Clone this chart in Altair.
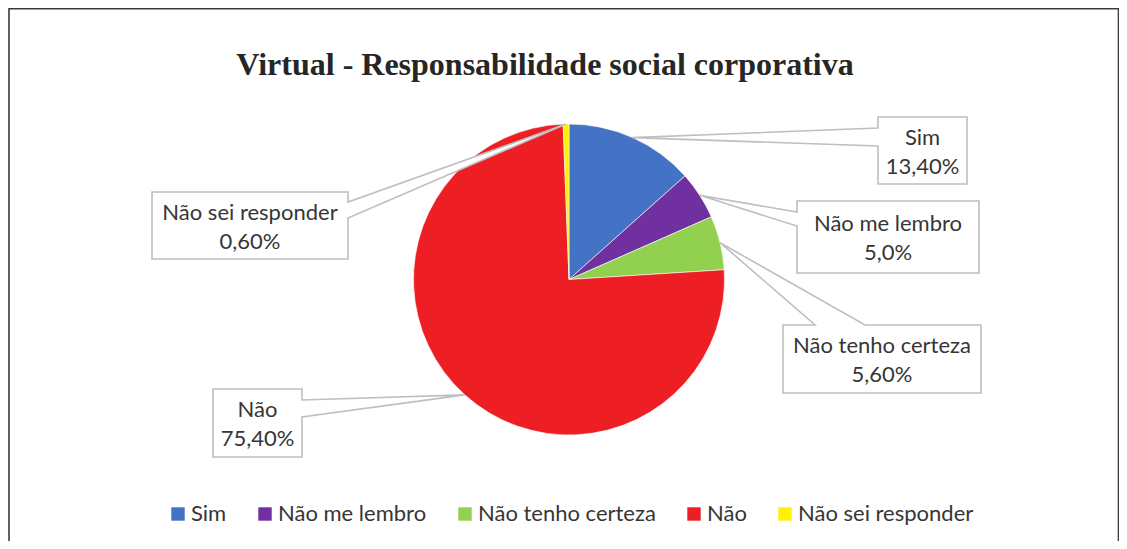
import math
import altair as alt
import pandas as pd

# ---------------- data ----------------
categories = ["Sim", "Não me lembro", "Não tenho certeza", "Não", "Não sei responder"]
values = [13.4, 5.0, 5.6, 75.4, 0.6]
value_labels = ["13,40%", "5,0%", "5,60%", "75,40%", "0,60%"]
colors = ["#4472C4", "#7030A0", "#92D050", "#ED1F24", "#FFF200"]
title_text = "Virtual - Responsabilidade social corporativa"

# ---------------- layout (page pixels) ----------------
M = 8                      # page margin
W, H = 1111, 533           # drawing size (fits inside the window)
CX, CY, R = 569, 279.5, 155.5
FONT = "Lato"
FS = 22
LH = 29
TEXT_COLOR = "#363636"
LINE_COLOR = "#BFBFBF"

# callout boxes: x0, x1, y0, y1, side where the pointer attaches, attach a, attach b
box_layout = [
    (878, 967, 117, 184, "left", 128, 146),
    (797, 979, 201, 273, "left", 212, 226),
    (783, 981, 325, 393, "top", 815, 865),
    (213, 302, 389, 457, "right", 400, 417),
    (152, 348, 192, 259, "right", 202, 218),
]

# ---------------- derived tables ----------------
pie_df = pd.DataFrame({"cat": categories, "val": values, "idx": list(range(len(categories)))})

total = sum(values)
tips = []
cum = 0.0
for v in values:
    mid = (cum + v / 2) / total * 2 * math.pi
    tips.append((CX + R * math.sin(mid), CY - R * math.cos(mid)))
    cum += v

poly_rows = []
label_rows = []
for i, (cat, lab, (x0, x1, y0, y1, side, a, b), tip) in enumerate(
        zip(categories, value_labels, box_layout, tips)):
    if side == "left":
        pts = [(x0, y0), (x1, y0), (x1, y1), (x0, y1), (x0, b), tip, (x0, a)]
    elif side == "right":
        pts = [(x0, y0), (x1, y0), (x1, a), tip, (x1, b), (x1, y1), (x0, y1)]
    else:  # top
        pts = [(x0, y0), (a, y0), tip, (b, y0), (x1, y0), (x1, y1), (x0, y1)]
    for k, (px, py) in enumerate(pts):
        poly_rows.append({"cid": i, "k": k, "px": px, "py": py})
    label_rows.append({"px": (x0 + x1) / 2, "py": (y0 + y1) / 2 - 6, "txt": f"{cat}\n{lab}"})

poly_df = pd.DataFrame(poly_rows)
label_df = pd.DataFrame(label_rows)
title_df = pd.DataFrame({"px": [545], "py": [74.5], "txt": [title_text]})
frame_df = pd.DataFrame({"px": [9], "px2": [M + W - 0.5], "py": [8.6], "py2": [600]})

xs = alt.Scale(domain=[M, M + W], nice=False, zero=False)
ys = alt.Scale(domain=[M, M + H], reverse=True, nice=False, zero=False)

frame = alt.Chart(frame_df).mark_rect(
    fill="white", stroke="#3A3A3A", strokeWidth=1.6, clip=False
).encode(
    x=alt.X("px:Q", scale=xs, axis=None), x2="px2",
    y=alt.Y("py:Q", scale=ys, axis=None), y2="py2",
)

pie = alt.Chart(pie_df).mark_arc(
    outerRadius=R, stroke="white", strokeWidth=0.6
).encode(
    theta=alt.Theta("val:Q", stack=True),
    color=alt.Color(
        "cat:N",
        scale=alt.Scale(domain=categories, range=colors),
        legend=alt.Legend(
            title=None, orient="none", direction="horizontal",
            legendX=159, legendY=495,
            symbolType="square", symbolSize=180, symbolStrokeWidth=0,
            labelFont=FONT, labelFontSize=FS, labelColor=TEXT_COLOR,
            labelOffset=2, columnPadding=27, labelLimit=400,
        ),
    ),
    order=alt.Order("idx:Q", sort="ascending"),
    x=alt.value(CX - M),
    y=alt.value(CY - M),
)

callouts = alt.Chart(poly_df).mark_line(
    interpolate="linear-closed", fill="white", stroke=LINE_COLOR, strokeWidth=1.6
).encode(
    x=alt.X("px:Q", scale=xs, axis=None),
    y=alt.Y("py:Q", scale=ys, axis=None),
    detail="cid:N",
    order="k:Q",
)

labels = alt.Chart(label_df).mark_text(
    font=FONT, fontSize=FS, color=TEXT_COLOR, align="center", baseline="alphabetic",
    lineBreak="\n", lineHeight=LH,
).encode(
    x=alt.X("px:Q", scale=xs, axis=None),
    y=alt.Y("py:Q", scale=ys, axis=None),
    text="txt:N",
)

title = alt.Chart(title_df).mark_text(
    font="Liberation Serif", fontSize=32, fontWeight="bold", color="#262626",
    align="center", baseline="alphabetic",
).encode(
    x=alt.X("px:Q", scale=xs, axis=None),
    y=alt.Y("py:Q", scale=ys, axis=None),
    text="txt:N",
)

chart = alt.layer(frame, pie, callouts, labels, title).properties(
    width=W, height=H, padding=0, autosize=alt.AutoSizeParams(type="none")
).configure_view(stroke=None)

chart.save("out.html", embed_options={"renderer": "svg", "actions": False})
